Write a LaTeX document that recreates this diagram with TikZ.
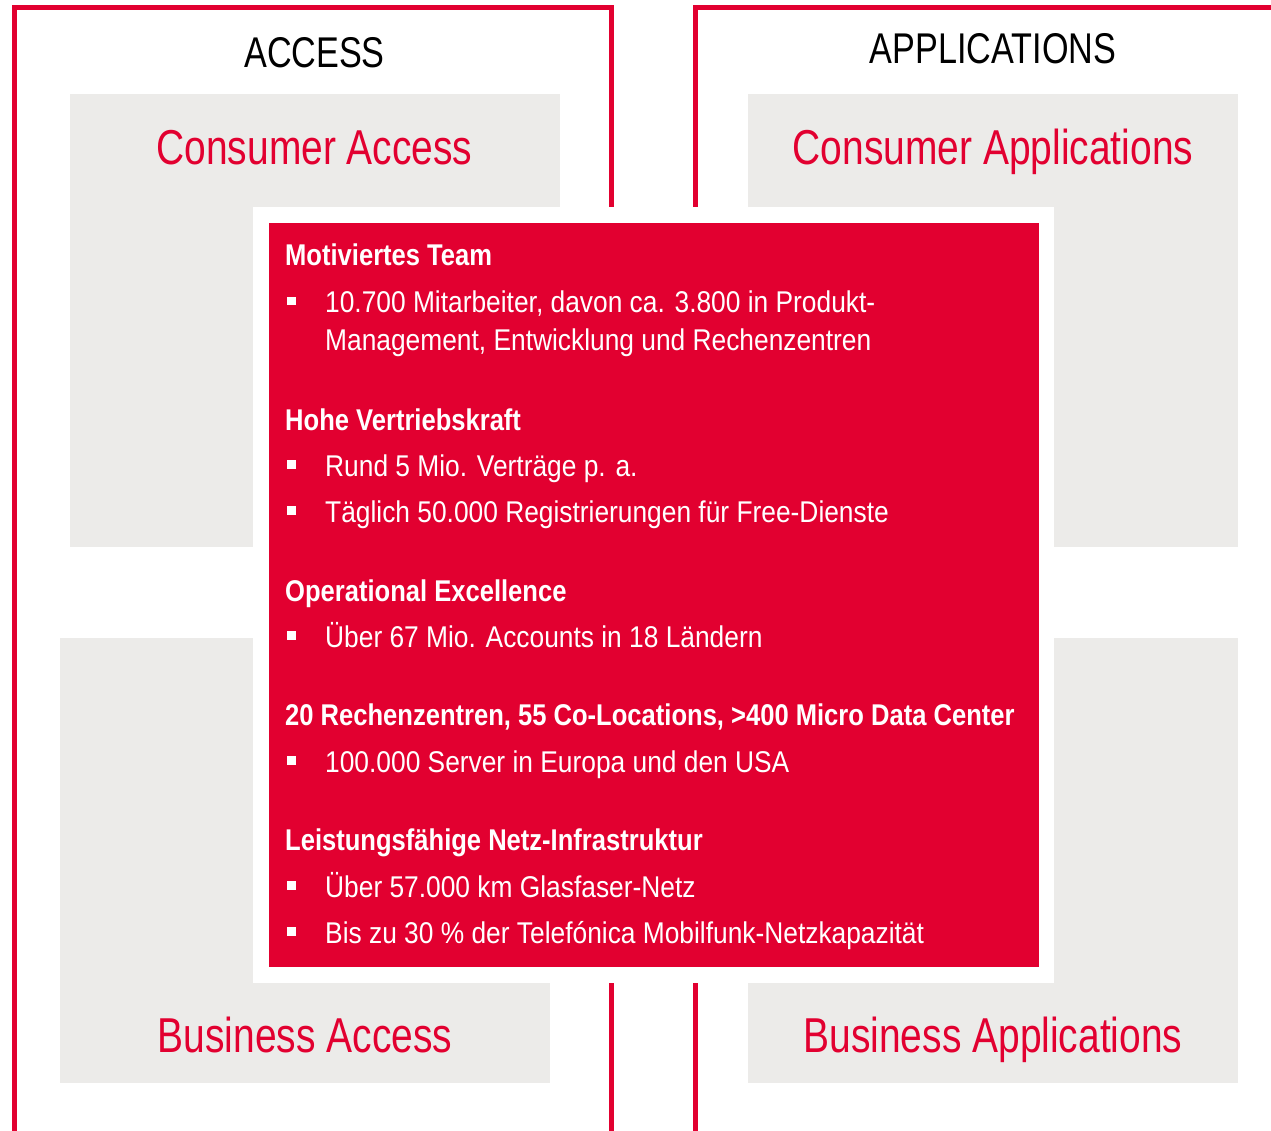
\documentclass[tikz,border=0pt]{standalone}
\usepackage{fontspec}
\setmainfont{Liberation Sans}[FakeStretch=0.795]
\newfontfamily\bodyfont{Liberation Sans}[FakeStretch=0.878]
\newfontfamily\headfont{Liberation Sans Bold}[FakeStretch=0.852]
\definecolor{uired}{RGB}{226,0,48}
\definecolor{uigray}{RGB}{236,235,233}
\newcommand{\bul}{\raisebox{7.5pt}{\rule{9pt}{9pt}}\hspace{29pt}}
\begin{document}
\begin{tikzpicture}[x=1pt,y=-1pt,
  framepath/.style={draw=uired,line width=5pt},
  graybox/.style={fill=uigray,draw=none,anchor=north west,inner sep=0},
  graytitle/.style={text=uired,font=\fontsize{49}{52}\selectfont,anchor=base,inner sep=0},
  coltitle/.style={text=black,font=\fontsize{43}{46}\selectfont,anchor=base,inner sep=0},
  heading/.style={text=white,font=\fontsize{30}{34}\headfont,anchor=base west,inner sep=0},
  itemtext/.style={text=white,font=\fontsize{30}{38}\bodyfont,anchor=base west,inner sep=0}]
\useasboundingbox (0,0) rectangle (1271,1131);
\clip (0,0) rectangle (1271,1131);
% frames
\draw[framepath] (14.5,1140) -- (14.5,7.5) -- (611.5,7.5) -- (611.5,1140);
\draw[framepath] (695.5,1140) -- (695.5,7.5) -- (1280,7.5);
% column titles
\node[coltitle] (tacc) at (314.5,68) {ACCESS};
\node[coltitle] (tapp) at (993,64) {APPLICATIONS};
% gray boxes
\node[graybox,minimum width=490pt,minimum height=453pt] (ca) at (70,94) {};
\node[graybox,minimum width=490pt,minimum height=453pt] (cp) at (748,94) {};
\node[graybox,minimum width=490pt,minimum height=445pt] (ba) at (60,638) {};
\node[graybox,minimum width=490pt,minimum height=445pt] (bp) at (748,638) {};
\node[graytitle] (tca) at (314.5,165) {Consumer Access};
\node[graytitle] (tcp) at (993,165) {Consumer Applications};
\node[graytitle] (tba) at (305,1052) {Business Access};
\node[graytitle] (tbp) at (993,1052) {Business Applications};
% central box
\node[fill=white,anchor=north west,inner sep=0,minimum width=801pt,minimum height=776pt] (wb) at (253,207) {};
\node[fill=uired,anchor=north west,inner sep=0,minimum width=770pt,minimum height=744pt] (rb) at (269,223) {};
% texts
\node[heading] (h1) at (285,266) {Motiviertes Team};
\node[itemtext] (i1) at (287,313) {\bul 10.700 Mitarbeiter, davon ca. 3.800 in Produkt-};
\node[itemtext] (i1b) at (325,351) {Management, Entwicklung und Rechenzentren};
\node[heading] (h2) at (285,430) {Hohe Vertriebskraft};
\node[itemtext] (i2) at (287,476) {\bul Rund 5 Mio. Verträge p. a.};
\node[itemtext] (i3) at (287,522) {\bul Täglich 50.000 Registrierungen für Free-Dienste};
\node[heading] (h3) at (285,601) {Operational Excellence};
\node[itemtext] (i4) at (287,647) {\bul Über 67 Mio. Accounts in 18 Ländern};
\node[heading] (h4) at (285,725) {20 Rechenzentren, 55 Co-Locations, >400 Micro Data Center};
\node[itemtext] (i5) at (287,772) {\bul 100.000 Server in Europa und den USA};
\node[heading] (h5) at (285,850) {Leistungsfähige Netz-Infrastruktur};
\node[itemtext] (i6) at (287,897) {\bul Über 57.000 km Glasfaser-Netz};
\node[itemtext] (i7) at (287,943) {\bul Bis zu 30 \% der Telefónica Mobilfunk-Netzkapazität};
\end{tikzpicture}
\end{document}
